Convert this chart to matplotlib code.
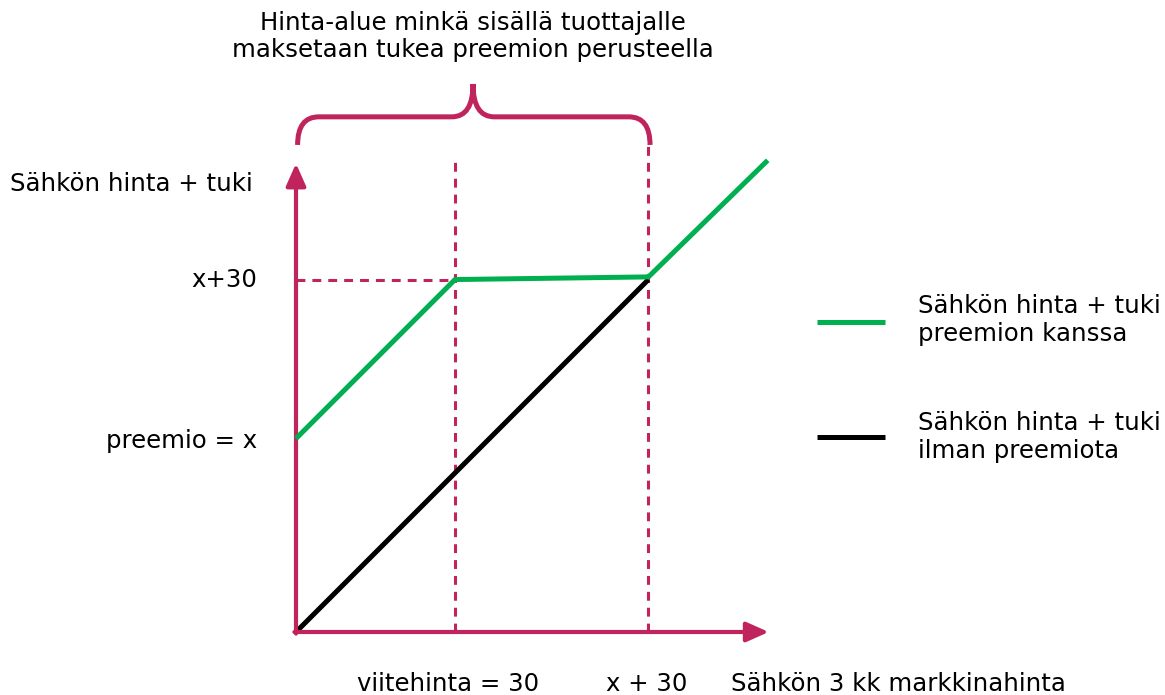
import matplotlib
matplotlib.use('Agg')
import matplotlib.pyplot as plt
from matplotlib.path import Path
from matplotlib.patches import PathPatch

plt.rcParams['font.family'] = ['DejaVu Sans']

# data (units: price)
premium = 36.5
ref_price = 30
green_x = [0, ref_price, ref_price + premium, 89]
green_y = [premium, ref_price + premium, ref_price + premium + 0.5, 89]
black_x = [0, ref_price + premium]
black_y = [0, ref_price + premium]

legend_green = "Sähkön hinta + tuki\npreemion kanssa"
legend_black = "Sähkön hinta + tuki\nilman preemiota"
title = "Hinta-alue minkä sisällä tuottajalle\nmaksetaan tukea preemion perusteella"

crimson = '#C0245C'
green = '#00B050'
fs = 17.6
dash = (0, (2.9, 2.3))

# 5.3 px per unit, origin at pixel (296, 632)
s = 5.3
fig = plt.figure(figsize=[11.65, 6.95], dpi=100)
ax = fig.add_axes([0, 0, 1, 1])
ax.set_xlim(-296 / s, (1165 - 296) / s)
ax.set_ylim(-(695 - 632) / s, 632 / s)
ax.axis('off')

# dashed guides
ax.plot([ref_price, ref_price], [0, 88.6], color=crimson, lw=2.2, ls=dash)
ax.plot([ref_price + premium] * 2, [0, 93], color=crimson, lw=2.2, ls=dash)
ax.plot([0, ref_price], [ref_price + premium] * 2, color=crimson, lw=2.2, ls=dash)

# lines
ax.plot(black_x, black_y, color='black', lw=3.6, solid_capstyle='butt', zorder=3)
ax.plot(green_x, green_y, color=green, lw=3.6, solid_capstyle='butt', zorder=4)

# axes arrows
arrow = dict(arrowstyle='-|>,head_length=0.9,head_width=0.4', mutation_scale=15,
             color=crimson, lw=3, shrinkA=0, shrinkB=0)
ax.annotate('', xy=(0, 88.4), xytext=(0, -0.3), arrowprops=arrow)
ax.annotate('', xy=(89.2, 0), xytext=(-0.3, 0), arrowprops=arrow)

# brace
xl, xr = 0.3, 66.8
xm = 33.4
yb, yh, yp = 91.9, 97.2, 103.4
r = 4.0
verts = [(xl, yb), (xl, yh), (xl + r, yh),
         (xm - r, yh), (xm, yh), (xm, yp),
         (xm, yh), (xm + r, yh),
         (xr - r, yh), (xr, yh), (xr, yb)]
codes = [Path.MOVETO, Path.CURVE3, Path.CURVE3,
         Path.LINETO, Path.CURVE3, Path.CURVE3,
         Path.CURVE3, Path.CURVE3,
         Path.LINETO, Path.CURVE3, Path.CURVE3]
ax.add_patch(PathPatch(Path(verts, codes), fill=False, edgecolor=crimson, lw=3.6,
                       capstyle='butt'))

# texts
ax.text(xm, 112.4, title, ha='center', va='center', fontsize=fs, linespacing=1.13)
ax.text(-54, 84.5, "Sähkön hinta + tuki", ha='left', va='center', fontsize=fs)
ax.text(-7.3, ref_price + premium, "x+30", ha='right', va='center', fontsize=fs)
ax.text(-7.3, premium - 0.4, "preemio = x", ha='right', va='center', fontsize=fs)
ax.text(ref_price - 1.3, -9.9, "viitehinta = 30", ha='center', va='center', fontsize=fs)
ax.text(ref_price + premium - 0.3, -9.9, "x + 30", ha='center', va='center', fontsize=fs)
ax.text(82, -9.9, "Sähkön 3 kk markkinahinta", ha='left', va='center', fontsize=fs)

# legend
ax.plot([98.3, 111.1], [58.4, 58.4], color=green, lw=3.6, solid_capstyle='butt')
ax.text(117.4, 58.9, legend_green, ha='left', va='center', fontsize=fs, linespacing=1.2)
ax.plot([98.3, 111.1], [36.7, 36.7], color='black', lw=3.6, solid_capstyle='butt')
ax.text(117.4, 36.8, legend_black, ha='left', va='center', fontsize=fs, linespacing=1.2)

fig.savefig('out.png', dpi=100)
